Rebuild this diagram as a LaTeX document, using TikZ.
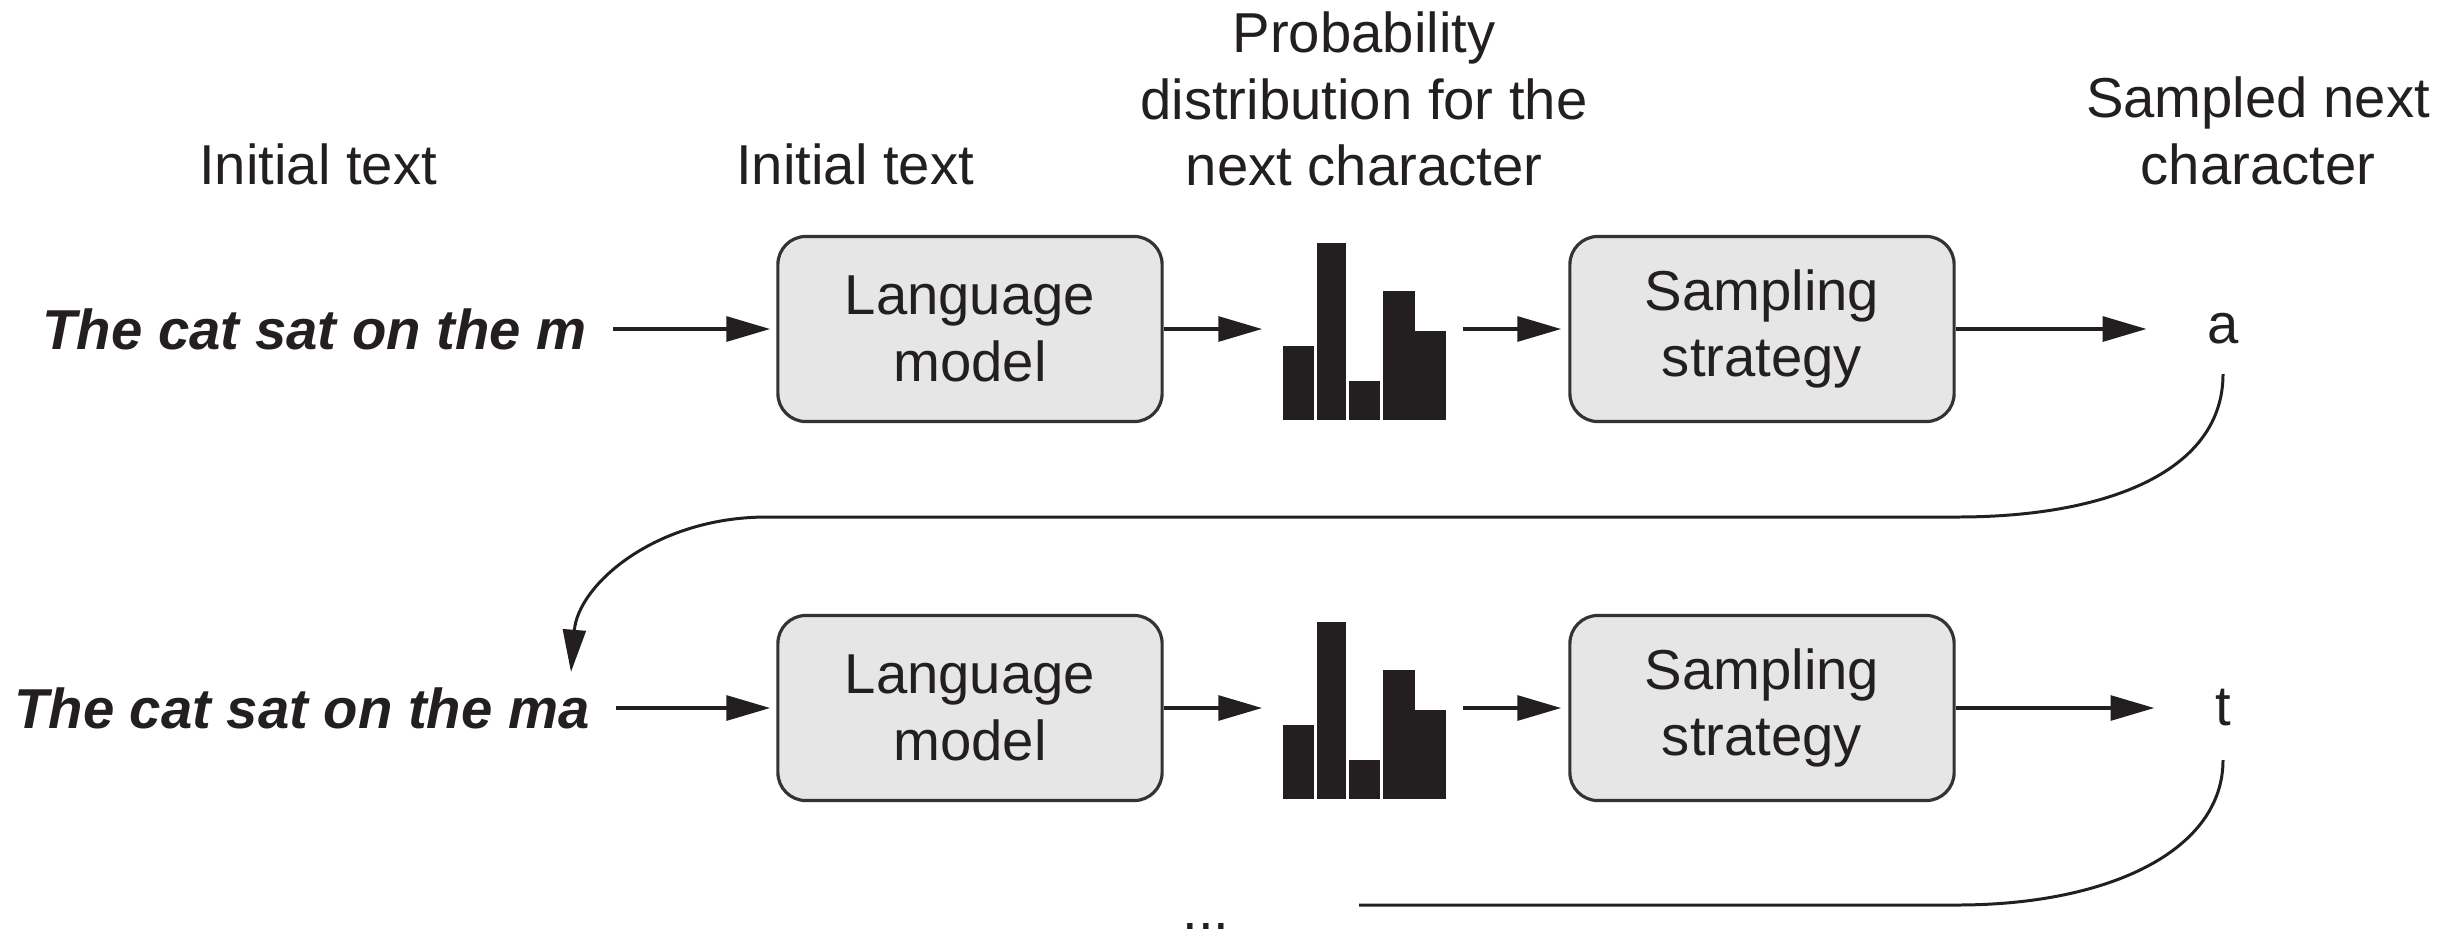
\documentclass[tikz,border=0pt]{standalone}
\usepackage{fontspec}
\setmainfont{Liberation Sans}
\usetikzlibrary{arrows.meta}
\definecolor{ink}{HTML}{231F20}
\definecolor{boxfill}{HTML}{E6E6E6}
\definecolor{boxline}{HTML}{333333}
\begin{document}
\begin{tikzpicture}[x=0.01cm,y=-0.01cm,
  every node/.style={text=ink, font=\fontsize{16}{19}\selectfont},
  proc/.style={draw=boxline, line width=0.9pt, fill=boxfill, rounded corners=0.28cm,
    minimum width=3.84cm, minimum height=1.85cm, align=center, inner sep=0pt},
  flow/.style={draw=ink, line width=1.2pt, -{Triangle[length=12.5pt,width=7pt]}},
  loopline/.style={draw=ink, line width=0.85pt},
  intext/.style={anchor=east, font=\fontsize{16}{19}\selectfont\bfseries\itshape},
  holder/.style={minimum width=1.63cm, minimum height=1.77cm, inner sep=0pt},
  charnode/.style={inner sep=0pt}
]
\useasboundingbox (0,0) rectangle (2455,936);

% header labels
\node (lab1) at (318,164) {Initial text};
\node (lab2) at (855,164) {Initial text};
\node[align=center] (prob) at (1364,99) {Probability\\distribution for the\\next character};
\node[align=center] (samp) at (2258,131) {Sampled next\\character};

% row 1
\node[intext] (in1) at (599,329) {The cat sat on the m};
\node[proc] (lm1) at (970,329) {Language\\model};
\node[holder] (d1) at (1364.5,329) {};
\node[proc] (ss1) at (1762,329) {Sampling\\strategy};
\node[charnode] (a1) at (2223,329) {a};

% row 2
\node[intext] (in2) at (602,708) {The cat sat on the ma};
\node[proc] (lm2) at (970,708) {Language\\model};
\node[holder] (d2) at (1364.5,708) {};
\node[proc] (ss2) at (1762,708) {Sampling\\strategy};
\node[charnode] (t2) at (2223,708) {t};

% bars
\foreach \dy in {0,379}{
\begin{scope}[shift={(0,\dy)}]
  \fill[ink] (1283,420) rectangle (1314,346);
  \fill[ink] (1317,420) rectangle (1346,243);
  \fill[ink] (1349,420) rectangle (1380,381);
  \fill[ink] (1383,420) rectangle (1415,291);
  \fill[ink] (1415,420) rectangle (1446,331);
\end{scope}
}

% flow arrows
\foreach \r in {1,2}{
  \ifnum\r=1 \def\inn{in1}\def\out{a1}\else \def\inn{in2}\def\out{t2}\fi
  \draw[flow, shorten <=0.14cm, shorten >=0.06cm] (\inn.east) -- (lm\r.west);
  \draw[flow, shorten >=0.2cm] (lm\r.east) -- (d\r.west);
  \draw[flow, shorten <=0.16cm, shorten >=0.07cm] (d\r.east) -- (ss\r.west);
  \draw[flow, shorten >=0.6cm] (ss\r.east) -- (\out.west |- ss\r.east);
}

% feedback loops
\coordinate (loopend) at (1359,905);
\draw[loopline, -{Triangle[length=12pt,width=6.5pt]}]
  ([yshift=-0.29cm]a1.south) .. controls (2223,470) and (2110,517) .. (1957,517)
  -- (767,517) .. controls (655,517) and (578,585) .. ([xshift=-0.31cm,yshift=0.03cm]in2.north east);
\draw[loopline]
  ([yshift=-0.33cm]t2.south) .. controls (2223,850) and (2110,905) .. (1957,905)
  -- (loopend);
\node (more) at (1206,926) {...};
\end{tikzpicture}
\end{document}
